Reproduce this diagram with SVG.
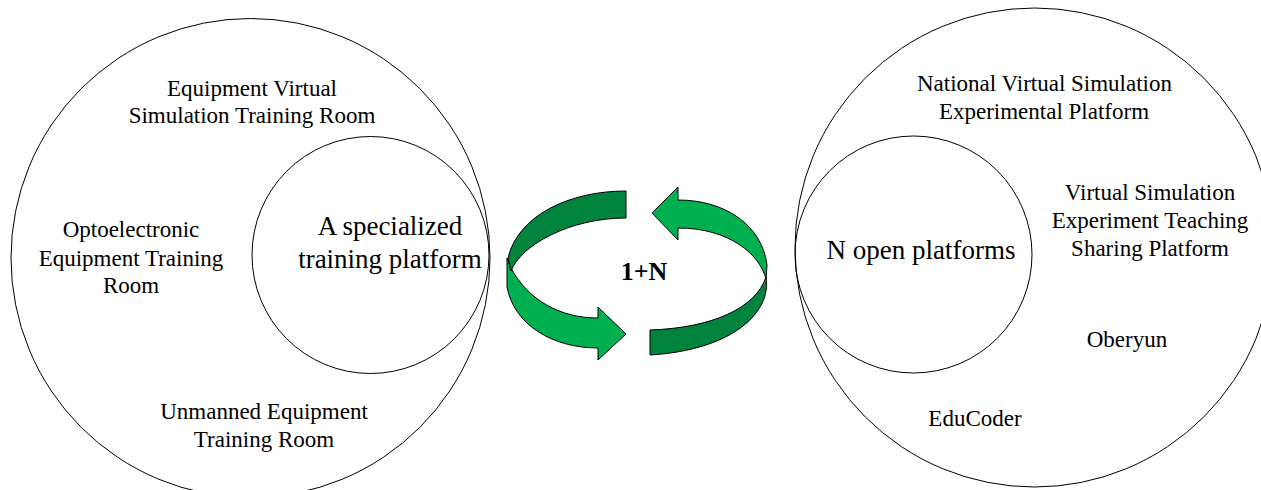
<svg xmlns="http://www.w3.org/2000/svg" width="1261" height="490" viewBox="0 0 1261 490">
<style>
.c{fill:none;stroke:#000;stroke-width:1}
.t{font-family:"Liberation Serif","Times New Roman",serif;font-size:23px;fill:#000;text-anchor:middle}
.tb{font-size:27px}
.b{font-family:"Liberation Serif","Times New Roman",serif;font-size:26px;font-weight:bold;fill:#000;text-anchor:middle}
.dk{fill:#00843D;stroke:#000;stroke-width:1;stroke-linejoin:round}
.lt{fill:#00B050;stroke:#000;stroke-width:1;stroke-linejoin:round}
</style>
<rect width="1261" height="490" fill="#fff"/>
<g id="left-group">
<circle class="c" cx="250.5" cy="258" r="239.5"/>
<text class="t" x="252" y="95.5">Equipment Virtual</text>
<text class="t" x="252" y="122.5">Simulation Training Room</text>
<text class="t" x="131" y="237">Optoelectronic</text>
<text class="t" x="131" y="265.5">Equipment Training</text>
<text class="t" x="131" y="293">Room</text>
<text class="t" x="264" y="419">Unmanned Equipment</text>
<text class="t" x="264" y="446.5">Training Room</text>
</g>
<g id="left-inner">
<circle class="c" cx="370.5" cy="255" r="118.5"/>
<text class="t tb" x="390" y="235">A specialized</text>
<text class="t tb" x="390" y="267.5">training platform</text>
</g>
<g id="right-group">
<circle class="c" cx="1034.5" cy="247.5" r="239.5"/>
<text class="t" x="1044.5" y="90.7">National Virtual Simulation</text>
<text class="t" x="1044" y="118.5">Experimental Platform</text>
<text class="t" x="1150" y="200">Virtual Simulation</text>
<text class="t" x="1150" y="228">Experiment Teaching</text>
<text class="t" x="1150" y="256">Sharing Platform</text>
<text class="t" x="1127" y="346.5">Oberyun</text>
<text class="t" x="975" y="426">EduCoder</text>
</g>
<g id="right-inner">
<circle class="c" cx="913.5" cy="254.5" r="118.5"/>
<text class="t tb" x="921" y="259">N open platforms</text>
</g>
<g id="connectors">
<path class="lt" d="M511,268 C528,300 560,318 598,318 L598,307 L626,334 L598,360 L598,348 C553,348 514,325 507,287 L507,258 Z"/>
<path class="dk" d="M626,191 C570,191 518,215 508,258 L511,271 C521,245 570,218 626,218 Z"/>
<path class="lt" d="M652,213 L678,187 L678,200 C725,200 762,225 767,265 L766,279 C760,255 730,228 678,228 L678,240 Z"/>
<path class="dk" d="M766,277 C772,312 733,350 650,355 L650,330 C712,328 756,308 766,277 Z"/>
<text class="b" x="644" y="280">1+N</text>
</g>
</svg>
